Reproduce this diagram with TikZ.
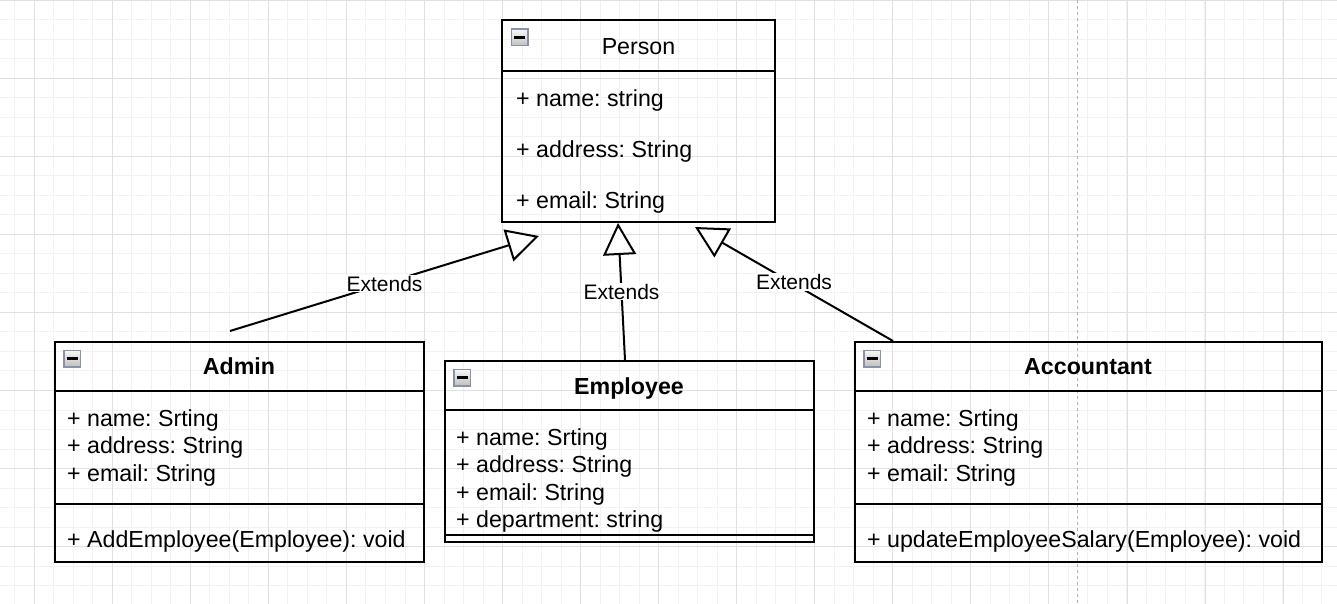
\documentclass[tikz,border=0pt]{standalone}
\usepackage{fontspec}
\setmainfont{Liberation Sans}
\usetikzlibrary{arrows.meta,calc}
\definecolor{gridminor}{HTML}{F2F2F2}
\definecolor{gridmajor}{HTML}{E0E0E0}
\definecolor{iconrim}{HTML}{8A92A5}
\newcommand\umlfont{\fontsize{23.2}{28}\selectfont}
\newcommand\tagfont{\fontsize{21}{25}\selectfont}
\frenchspacing

\begin{document}
\begin{tikzpicture}[x=1pt,y=-1pt,
  cls/.style={draw,line width=2pt,anchor=north west,inner sep=0pt,outer sep=0pt},
  sep/.style={line width=2pt},
  attr/.style={anchor=base west,inner sep=0pt,font=\umlfont},
  ttl/.style={anchor=base,inner sep=0pt,font=\umlfont\bfseries},
  icon/.style={draw=iconrim,line width=1.5pt,minimum size=16.5pt,inner sep=0pt,top color=black!3,bottom color=black!25},
  ext/.style={line width=2pt,-{Triangle[length=32pt,width=33pt,fill=white]}},
  lbl/.style={fill=white,inner sep=1pt,font=\tagfont}]
  \fill[white] (0,0) rectangle (1337,604);
  \useasboundingbox (0,0) rectangle (1337,604);
  \foreach \i in {0,...,68}
     \draw[gridminor,line width=1pt] ({14.8+\i*19.51},0) -- ++(0,604);
  \foreach \i in {0,...,31}
     \draw[gridminor,line width=1pt] (0,{0.3+\i*19.51}) -- ++(1337,0);
  \foreach \i in {0,...,16}{
     \draw[gridmajor,line width=1pt] ({34.3+\i*78.05},0) -- ++(0,604);
     \draw[gridmajor,line width=1pt] (0,{0.3+\i*78.05}) -- ++(1337,0);}
  \draw[black!30,line width=1pt,dash pattern=on 3pt off 3pt] (1077,0) -- (1077,604);

  \node[cls,minimum width=273pt,minimum height=201.5pt] (person) at (502,20.5) {};
  \node[ttl,font=\umlfont] (personTtl) at (638.5,55) {Person};
  \draw[sep] ($(person.north west)+(0,50.5)$) -- ($(person.north east)+(0,50.5)$);
  \foreach \t [count=\r from 0] in {{+ name: string},{+ address: String},{+ email: String}}
     \node[attr] (personAttr\r) at (516,{107+\r*50.5}) {\t};

  \node[cls,minimum width=369.5pt,minimum height=220.5pt] (admin) at (54.5,341.5) {};
  \node[ttl] (adminTtl) at (239,374) {Admin};
  \draw[sep] ($(admin.north west)+(0,49)$) -- ($(admin.north east)+(0,49)$);
  \foreach \t [count=\r from 0] in {{+ name: Srting},{+ address: String},{+ email: String}}
     \node[attr] (adminAttr\r) at (67,{426+\r*27.5}) {\t};
  \draw[sep] ($(admin.north west)+(0,162)$) -- ($(admin.north east)+(0,162)$);
  \node[attr] (adminOp) at (67,547) {+ AddEmployee(Employee): void};

  \node[cls,minimum width=369.5pt,minimum height=181.5pt] (employee) at (444.5,360.5) {};
  \node[ttl] (employeeTtl) at (629,394) {Employee};
  \draw[sep] ($(employee.north west)+(0,49.5)$) -- ($(employee.north east)+(0,49.5)$);
  \foreach \t [count=\r from 0] in {{+ name: Srting},{+ address: String},{+ email: String},{+ department: string}}
     \node[attr] (employeeAttr\r) at (456,{445+\r*27.5}) {\t};
  \draw[sep] ($(employee.north west)+(0,174.5)$) -- ($(employee.north east)+(0,174.5)$);

  \node[cls,minimum width=467.5pt,minimum height=220.5pt] (accountant) at (854.5,341.5) {};
  \node[ttl] (accountantTtl) at (1088,374) {Accountant};
  \draw[sep] ($(accountant.north west)+(0,49)$) -- ($(accountant.north east)+(0,49)$);
  \foreach \t [count=\r from 0] in {{+ name: Srting},{+ address: String},{+ email: String}}
     \node[attr] (accountantAttr\r) at (867,{426+\r*27.5}) {\t};
  \draw[sep] ($(accountant.north west)+(0,162)$) -- ($(accountant.north east)+(0,162)$);
  \node[attr] (accountantOp) at (867,547) {+ updateEmployeeSalary(Employee): void};

  \foreach \c in {person,admin,employee,accountant}{
     \node[icon] (\c Icon) at ($(\c.north west)+(17.5,17)$) {};
     \draw[line width=2.6pt] ($(\c Icon.center)+(-5.5,0)$) -- ($(\c Icon.center)+(5.5,0)$);}

  \coordinate (adminFoot) at ($(admin.north west)+(175.5,-10.5)$);
  \coordinate (employeeFoot) at ($(employee.north west)+(180.5,-0.5)$);
  \coordinate (accountantFoot) at ($(accountant.north west)+(38.5,-0.5)$);
  \coordinate (adminTip) at ($(person.south west)+(37,14)$);
  \coordinate (employeeTip) at ($(person.south west)+(116,1)$);
  \coordinate (accountantTip) at ($(person.south west)+(193,5)$);
  \draw[ext] (adminFoot) -- node[lbl] (adminLbl) {Extends} (adminTip);
  \draw[ext] (employeeFoot) -- node[lbl] (employeeLbl) {Extends} (employeeTip);
  \draw[ext] (accountantFoot) -- node[lbl,yshift=2pt] (accountantLbl) {Extends} (accountantTip);
\end{tikzpicture}
\end{document}
